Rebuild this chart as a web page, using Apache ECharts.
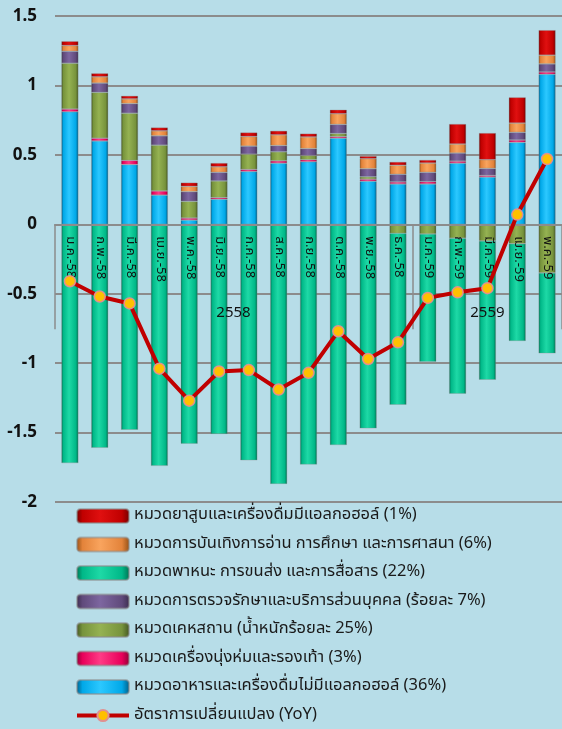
<!DOCTYPE html>
<html>
<head>
<meta charset="utf-8">
<script src="https://cdn.jsdelivr.net/npm/echarts@6/dist/echarts.min.js"></script>
<style>
  html, body { margin: 0; padding: 0; background: #b7dde8; }
  #chart { width: 562px; height: 729px; }
</style>
</head>
<body>
<div id="chart"></div>
<script>
// เดือน (แกน x)
var months = ['ม.ค.-58','ก.พ.-58','มี.ค.-58','เม.ย.-58','พ.ค.-58','มิ.ย.-58','ก.ค.-58','ส.ค.-58','ก.ย.-58','ต.ค.-58','พ.ย.-58','ธ.ค.-58','ม.ค.-59','ก.พ.-59','มี.ค.-59','เม.ย.-59','พ.ค.-59'];
// ปี: index ที่ขึ้นป้าย และจุดแบ่งกลุ่ม
var yearLabels = { 5: '2558', 14: '2559' };
var yearBreaks = [0, 12];

// contribution ของแต่ละหมวด
var food       = [0.81,0.60,0.43,0.21,0.03,0.18,0.38,0.44,0.45,0.62,0.31,0.29,0.29,0.44,0.34,0.59,1.08];
var apparel    = [0.02,0.02,0.03,0.03,0.015,0.012,0.015,0.017,0.015,0.012,0.015,0.015,0.017,0.015,0.012,0.017,0.017];
var housing    = [0.33,0.33,0.34,0.33,0.12,0.12,0.11,0.065,0.03,0.022,0.017,-0.065,-0.07,-0.10,-0.12,-0.14,-0.35];
var medical    = [0.086,0.067,0.069,0.067,0.07,0.062,0.058,0.045,0.05,0.065,0.058,0.055,0.067,0.058,0.05,0.055,0.058];
var transport  = [-1.72,-1.61,-1.48,-1.74,-1.58,-1.51,-1.70,-1.87,-1.73,-1.59,-1.47,-1.235,-0.92,-1.12,-1.00,-0.70,-0.58];
var recreation = [0.041,0.045,0.034,0.036,0.038,0.04,0.069,0.077,0.084,0.077,0.072,0.065,0.067,0.065,0.063,0.067,0.063];
var tobacco    = [0.031,0.025,0.022,0.024,0.027,0.027,0.029,0.029,0.024,0.029,0.019,0.024,0.022,0.144,0.192,0.185,0.18];
var yoy        = [-0.41,-0.52,-0.57,-1.04,-1.27,-1.06,-1.05,-1.19,-1.07,-0.77,-0.97,-0.85,-0.53,-0.49,-0.46,0.07,0.47];

var names = {
  tobacco: 'หมวดยาสูบและเครื่องดื่มมีแอลกอฮอล์ (1%)',
  recreation: 'หมวดการบันเทิงการอ่าน การศึกษา และการศาสนา (6%)',
  transport: 'หมวดพาหนะ การขนส่ง และการสื่อสาร (22%)',
  medical: 'หมวดการตรวจรักษาและบริการส่วนบุคคล (ร้อยละ 7%)',
  housing: 'หมวดเคหสถาน (น้ำหนักร้อยละ 25%)',
  apparel: 'หมวดเครื่องนุ่งห่มและรองเท้า (3%)',
  food: 'หมวดอาหารและเครื่องดื่มไม่มีแอลกอฮอล์ (36%)',
  yoy: 'อัตราการเปลี่ยนแปลง (YoY)'
};

var font = 'Tahoma, "Noto Sans Thai", "Noto Sans", sans-serif';

// grid / y range -> ระยะจากขอบล่างถึงเส้น 0
var gridTop = 16, gridBottom = 227, yMin = -2, yMax = 1.5;
var plotH = 729 - gridTop - gridBottom;
var zeroOffset = -plotH * (0 - yMin) / (yMax - yMin);

// ไล่สีแบบ bevel ของ excel
function bevel(dark, base, light){
  return new echarts.graphic.LinearGradient(0, 0, 1, 0, [
    {offset: 0, color: dark},
    {offset: 0.12, color: base},
    {offset: 0.45, color: light},
    {offset: 0.85, color: base},
    {offset: 1, color: dark}
  ]);
}

function barSeries(name, data, c){
  return {
    name: name,
    type: 'bar',
    stack: 'cpi',
    barWidth: 17,
    data: data,
    itemStyle: {
      color: bevel(c[0], c[1], c[2]),
      borderColor: 'rgba(140,140,140,0.55)',
      borderWidth: 0.6
    }
  };
}

var chart = echarts.init(document.getElementById('chart'));
chart.setOption({
  backgroundColor: '#b7dde8',
  animation: false,
  grid: { left: 55, right: 0, top: gridTop, bottom: gridBottom },
  legend: {
    orient: 'vertical',
    left: 75,
    top: 507,
    padding: 0,
    itemWidth: 52,
    itemHeight: 14,
    itemGap: 10.5,
    textStyle: { fontFamily: font, fontSize: 16.5, color: '#1a1a1a', lineHeight: 18 },
    data: [names.tobacco, names.recreation, names.transport, names.medical, names.housing, names.apparel, names.food,
      { name: names.yoy, lineStyle: { width: 4 } }]
  },
  xAxis: [{
    type: 'category',
    data: months,
    position: 'bottom',
    offset: zeroOffset,
    z: 3,
    axisLine: { onZero: false, lineStyle: { color: '#8c8c8c', width: 2 } },
    axisTick: { show: false },
    axisLabel: {
      interval: 0,
      rotate: -90,
      margin: 12,
      fontFamily: font,
      fontSize: 13,
      color: '#111'
    }
  }, {
    type: 'category',
    data: months,
    position: 'bottom',
    offset: zeroOffset,
    z: 3,
    axisLine: { show: false, onZero: false },
    axisTick: {
      show: true,
      length: 105,
      interval: function (i) { return yearBreaks.indexOf(i) >= 0; },
      lineStyle: { color: '#8c8c8c', width: 1.5 }
    },
    axisLabel: {
      interval: 0,
      margin: 82,
      fontFamily: font,
      fontSize: 15,
      color: '#111',
      formatter: function (v, i) {
        if (i === 5) return '{shift|' + yearLabels[i] + '}';
        return yearLabels[i] || '';
      },
      rich: { shift: { padding: [0, 0, 0, 29], fontFamily: font, fontSize: 15, color: '#111' } }
    }
  }],
  yAxis: {
    type: 'value',
    min: yMin,
    max: yMax,
    interval: 0.5,
    axisLine: { show: false },
    axisTick: { show: false },
    axisLabel: { margin: 18, fontFamily: '"Noto Sans", sans-serif', fontWeight: 'bold', fontSize: 17, color: '#111' },
    splitLine: { lineStyle: { color: '#8c8c8c', width: 2 } }
  },
  series: [
    barSeries(names.food, food, ['#005a82', '#00a8e8', '#2cc8ff']),
    barSeries(names.apparel, apparel, ['#8a0035', '#e8005a', '#ff3b86']),
    barSeries(names.housing, housing, ['#3f5220', '#77933c', '#95b252']),
    barSeries(names.medical, medical, ['#3a2b4c', '#604a7b', '#7d66a0']),
    barSeries(names.transport, transport, ['#006e50', '#00b888', '#1ed9a6']),
    barSeries(names.recreation, recreation, ['#8e4d14', '#e3833a', '#f9a45e']),
    barSeries(names.tobacco, tobacco, ['#6e0000', '#c00000', '#e01010']),
    {
      name: names.yoy,
      type: 'line',
      data: yoy,
      z: 5,
      symbol: 'circle',
      symbolSize: 11,
      lineStyle: { color: '#c00000', width: 4 },
      itemStyle: { color: '#ffc000', borderColor: '#e09090', borderWidth: 1.5 }
    }
  ]
});
</script>
</body>
</html>
